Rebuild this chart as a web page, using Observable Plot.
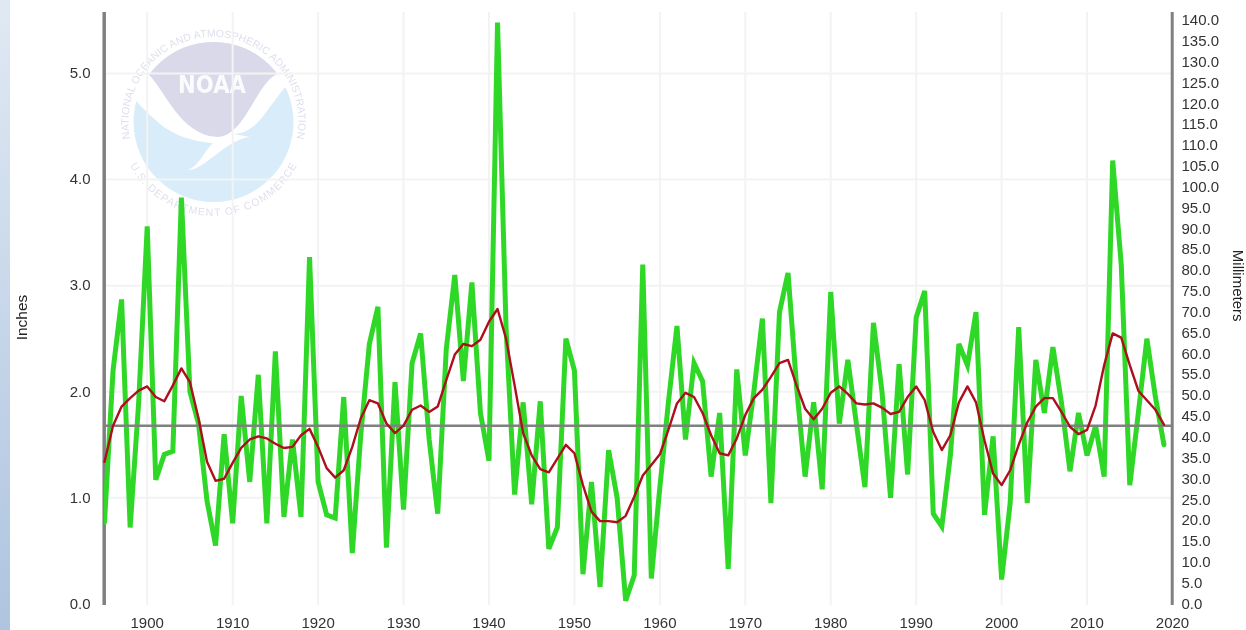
<!DOCTYPE html>
<html>
<head>
<meta charset="utf-8">
<script src="https://cdn.jsdelivr.net/npm/d3@7"></script>
<script src="https://cdn.jsdelivr.net/npm/@observablehq/plot@0.6"></script>
<style>
html,body{margin:0;padding:0;background:#fff;overflow:hidden;width:1246px;height:630px}
#strip{position:absolute;left:0;top:0;width:10px;height:630px;background:linear-gradient(#e0e9f3,#aec4e0)}
#logo{position:absolute;left:0;top:0;filter:blur(.6px)}
#chart{position:absolute;left:0;top:0;filter:blur(.5px)}
#chart svg{background:transparent}
</style>
</head>
<body>
<div id="strip"></div>
<svg id="logo" width="1246" height="630" viewBox="0 0 1246 630">
  <defs>
    <path id="topArc" d="M131.8,145.4 A85,85 0 1 1 295.2,145.4"/>
    <path id="botArc" d="M128.3,161.7 A94,94 0 0 0 298.7,161.7"/>
    <clipPath id="disc"><circle cx="213.5" cy="122" r="80"/></clipPath>
  </defs>
  <circle cx="213.5" cy="122" r="80" fill="#d9ecfa"/>
  <g clip-path="url(#disc)">
    <path d="M133,40 H294 V74 H277 C255,85 245,137 217,137 C180,135 165,90 148,74 H133 Z" fill="#d9d9ea"/>
  </g>
  <path d="M133,98 L148,74 C165,90 180,135 217,137 C245,137 255,85 277,74 L287,85 C265,110 258,133 233,134 L250,137 C225,140 205,170 188,170 C200,165 205,150 213,143 C170,140 155,120 133,98 Z" fill="#fff"/>
  <text x="212" y="93" text-anchor="middle" font-family="DejaVu Sans" font-weight="bold" font-size="24" textLength="68" lengthAdjust="spacingAndGlyphs" fill="#fbfbfe">NOAA</text>
  <text font-family="Liberation Sans" font-size="10.5" fill="#dfdfee"><textPath href="#topArc" startOffset="50%" text-anchor="middle" textLength="300">NATIONAL OCEANIC AND ATMOSPHERIC ADMINISTRATION</textPath></text>
  <text font-family="Liberation Sans" font-size="10.5" fill="#dfdfee"><textPath href="#botArc" startOffset="50%" text-anchor="middle" textLength="205">U.S. DEPARTMENT OF COMMERCE</textPath></text>
</svg>
<div id="chart"></div>
<script>
const startYear = 1895;
const precip = [0.77,2.2,2.87,0.72,1.9,3.56,1.17,1.41,1.44,3.83,2.0,1.7,0.97,0.55,1.6,0.76,1.96,1.15,2.16,0.76,2.38,0.82,1.55,0.82,3.27,1.15,0.84,0.81,1.95,0.48,1.6,2.45,2.8,0.53,2.09,0.89,2.27,2.55,1.55,0.85,2.4,3.1,2.1,3.03,1.8,1.35,5.48,2.6,1.03,1.9,0.94,1.91,0.52,0.72,2.5,2.2,0.28,1.15,0.16,1.45,1.0,0.03,0.27,3.2,0.24,1.1,1.9,2.62,1.55,2.27,2.1,1.2,1.8,0.33,2.21,1.4,2.0,2.69,0.95,2.75,3.12,2.05,1.2,1.9,1.08,2.94,1.7,2.3,1.7,1.1,2.65,2.0,1.0,2.26,1.22,2.7,2.95,0.85,0.73,1.4,2.45,2.25,2.75,0.84,1.58,0.23,0.95,2.61,0.95,2.3,1.8,2.42,1.9,1.25,1.8,1.4,1.68,1.2,4.18,3.2,1.12,1.8,2.5,1.95,1.5];
const smooth = [1.34,1.68,1.86,1.94,2.01,2.05,1.95,1.91,2.06,2.22,2.09,1.75,1.34,1.16,1.18,1.33,1.47,1.55,1.58,1.56,1.51,1.47,1.48,1.59,1.65,1.48,1.28,1.19,1.26,1.48,1.75,1.92,1.89,1.70,1.61,1.68,1.83,1.87,1.81,1.86,2.11,2.35,2.45,2.43,2.49,2.66,2.78,2.5,2.06,1.61,1.40,1.27,1.24,1.37,1.50,1.42,1.12,0.87,0.78,0.78,0.77,0.83,1.01,1.21,1.31,1.41,1.64,1.89,1.99,1.95,1.80,1.59,1.42,1.40,1.56,1.78,1.94,2.02,2.14,2.27,2.30,2.06,1.84,1.74,1.84,1.99,2.05,1.98,1.89,1.88,1.89,1.85,1.79,1.81,1.95,2.05,1.92,1.62,1.45,1.59,1.90,2.05,1.90,1.54,1.23,1.12,1.26,1.50,1.71,1.86,1.94,1.94,1.81,1.67,1.60,1.64,1.87,2.25,2.55,2.51,2.25,2.01,1.92,1.83,1.69];
const meanValue = 1.68;
const decadeTicks = [1900,1910,1920,1930,1940,1950,1960,1970,1980,1990,2000,2010,2020];
const inchTicks = [0,1,2,3,4,5];
const mmTicks = d3.range(0,141,5);
const mmPerInch = 25.45;
const table = precip.map((v,i)=>({year:startYear+i,precip:v,smooth:smooth[i]}));
const font = "Liberation Sans, Arial, sans-serif";

const plot = Plot.plot({
  width:1246, height:630,
  marginLeft:104, marginRight:74, marginTop:12, marginBottom:25,
  style:{background:"transparent",fontFamily:font,fontSize:"15px",color:"#333"},
  x:{domain:[1895,2020]},
  y:{domain:[-0.015,5.575]},
  marks:[
    Plot.gridX(decadeTicks,{stroke:"#f3f3f3",strokeOpacity:1,strokeWidth:2}),
    Plot.gridY(inchTicks.slice(1),{stroke:"#f3f3f3",strokeOpacity:1,strokeWidth:2}),
    Plot.axisX(decadeTicks,{tickSize:0,tickPadding:12,tickFormat:d=>String(d),label:null,fontSize:15}),
    Plot.axisY(inchTicks,{tickSize:0,tickPadding:14,tickFormat:d=>d.toFixed(1),label:null,fontSize:15}),
    Plot.axisY(mmTicks.map(m=>m/mmPerInch),{anchor:"right",tickSize:0,tickPadding:9,tickFormat:d=>(d*mmPerInch).toFixed(1),label:null,fontSize:15}),
    Plot.ruleX([1895],{y1:-0.015,y2:5.575,stroke:"#808080",strokeWidth:3.5,dx:-0.3}),
    Plot.ruleX([2020],{y1:-0.015,y2:5.575,stroke:"#808080",strokeWidth:3,dx:-0.3}),
    Plot.line(table,{x:"year",y:"precip",stroke:"#2fd827",strokeWidth:5,curve:"linear",strokeLinejoin:"miter",strokeMiterlimit:4,clip:true}),
    Plot.ruleY([meanValue],{stroke:"#808080",strokeWidth:2.5}),
    Plot.line(table,{x:"year",y:"smooth",stroke:"#ad0f1d",strokeWidth:2.4,curve:"linear"}),
    Plot.text(["Inches"],{x:()=>1895,y:()=>2.7,dx:-82,rotate:-90,fontSize:15.5,fill:"#222"}),
    Plot.text(["Millimeters"],{x:()=>2020,y:()=>3.0,dx:65,rotate:90,fontSize:15,fill:"#222"})
  ]
});
document.getElementById("chart").appendChild(plot);
</script>
</body>
</html>
